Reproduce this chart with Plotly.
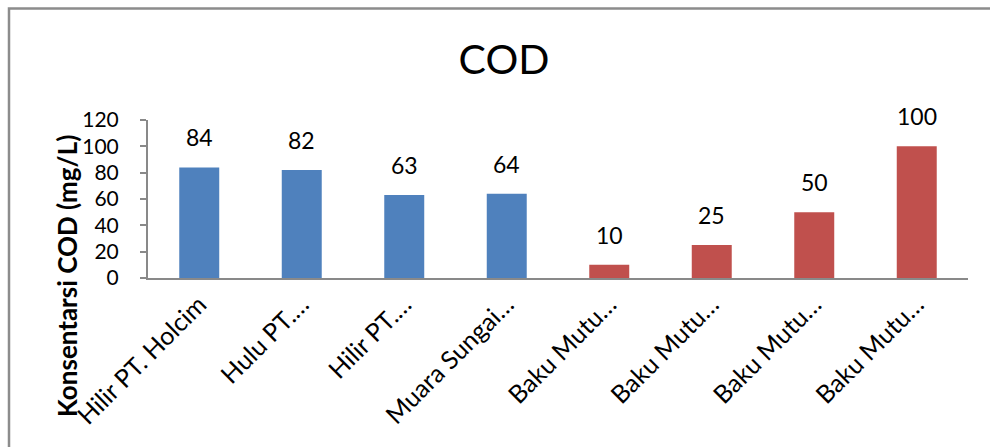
import plotly.graph_objects as go

categories = ["Hilir PT. Holcim", "Hulu PT.…", "Hilir PT.…", "Muara Sungai…",
              "Baku Mutu…", "Baku Mutu…", "Baku Mutu…", "Baku Mutu…"]
values = [84, 82, 63, 64, 10, 25, 50, 100]
colors = ["#4F81BD"] * 4 + ["#C0504D"] * 4
y_ticks = [0, 20, 40, 60, 80, 100, 120]

W, H = 990, 447
L, R, T, B = 148, 22, 120, 169
pw, ph = W - L - R, H - T - B

def px_x(px):
    return (px - L) / pw

def px_y(py):
    return (H - B - py) / ph

FONT = "Lato, Carlito, Calibri, sans-serif"

xs = list(range(len(categories)))
fig = go.Figure()
fig.add_trace(go.Bar(x=xs, y=values, marker=dict(color=colors, line=dict(width=0)),
                     width=0.39, hoverinfo="skip"))

annotations = []
for i, v in enumerate(values):
    annotations.append(dict(x=i, y=v, xref="x", yref="y", text=str(v), showarrow=False,
                            yanchor="bottom", yshift=14, font=dict(size=23, color="#000", family=FONT)))
annotations.append(dict(x=px_x(67), y=px_y(276), xref="paper", yref="paper",
                        xanchor="center", yanchor="middle",
                        text="<b>Konsentarsi COD (mg/L)</b>", textangle=-90, showarrow=False,
                        font=dict(size=26, color="#000", family=FONT)))

fig.update_layout(
    width=W, height=H,
    margin=dict(l=L, r=R, t=T, b=B, pad=0),
    paper_bgcolor="white", plot_bgcolor="white",
    showlegend=False,
    title=dict(text="COD", x=504 / W, xanchor="center", xref="container",
               y=1 - 60 / H, yanchor="middle", yref="container",
               font=dict(size=41, color="#000", family=FONT)),
    font=dict(family=FONT, color="#000"),
    annotations=annotations,
    shapes=[dict(type="rect", xref="paper", yref="paper",
                 x0=px_x(9), x1=px_x(1060), y0=px_y(520), y1=px_y(8.5),
                 line=dict(color="#8C8C8C", width=2.5), fillcolor="rgba(0,0,0,0)", layer="below")],
)
fig.update_xaxes(range=[-0.5, len(categories) - 0.5], tickmode="array", tickvals=xs,
                 ticktext=categories, tickangle=-45, showline=True, linecolor="#898989",
                 linewidth=2, ticks="", showgrid=False, zeroline=False,
                 tickfont=dict(size=25, color="#000", family=FONT))
fig.update_yaxes(range=[0, 120], tickmode="array", tickvals=y_ticks, showline=True,
                 linecolor="#898989", linewidth=2, ticks="outside", ticklen=6,
                 tickcolor="#898989", tickwidth=1.5, showgrid=False, zeroline=False,
                 ticklabelstandoff=17,
                 tickfont=dict(size=21, color="#000", family=FONT))

fig.write_html("out.html")
